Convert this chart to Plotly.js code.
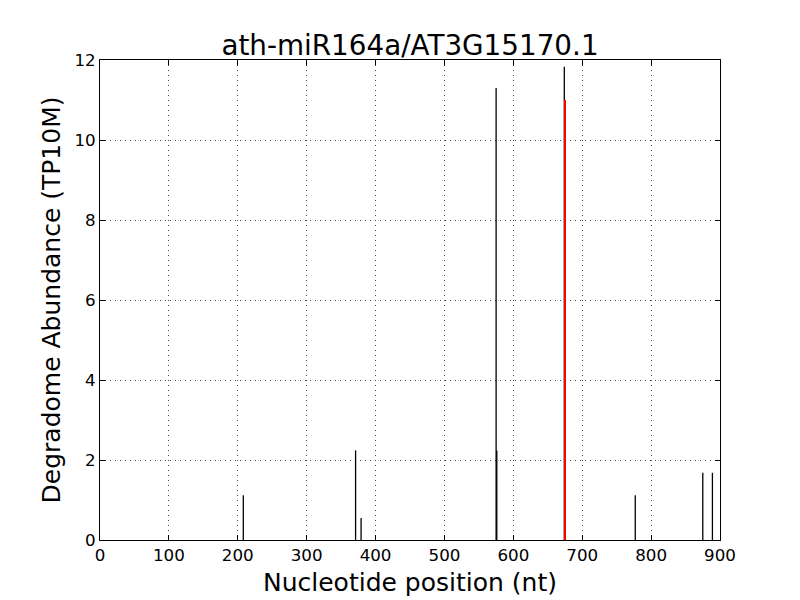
<!DOCTYPE html>
<html>
<head>
<meta charset="utf-8">
<script src="https://cdn.plot.ly/plotly-3.0.1.min.js"></script>
<style>html,body{margin:0;padding:0;background:#fff;}#chart{width:800px;height:600px;}</style>
</head>
<body>
<div id="chart"></div>
<script>
// Degradome peaks (nucleotide position, abundance TP10M)
const positions = [208, 371, 379, 575, 576, 674, 777, 875, 889];
const abundance = [1.12, 2.24, 0.55, 11.3, 2.24, 11.83, 1.12, 1.68, 1.68];
// Predicted cleavage site (red)
const sitePositions = [675];
const siteAbundance = [11.0];

const xTicks = [0, 100, 200, 300, 400, 500, 600, 700, 800, 900];
const yTicks = [0, 2, 4, 6, 8, 10, 12];

function stems(xs, ys) {
  const X = [], Y = [];
  xs.forEach((x, i) => { X.push(x, x, null); Y.push(0, ys[i], null); });
  return {X, Y};
}
const b = stems(positions, abundance);
const r = stems(sitePositions, siteAbundance);

const traces = [
  {x: b.X, y: b.Y, type: 'scatter', mode: 'lines', line: {color: '#000000', width: 1.3}, hoverinfo: 'skip', showlegend: false},
  {x: r.X, y: r.Y, type: 'scatter', mode: 'lines', line: {color: '#ff0000', width: 2}, hoverinfo: 'skip', showlegend: false}
];

const axisCommon = {
  showline: true, linecolor: '#000', linewidth: 1, mirror: 'ticks',
  ticks: 'inside', ticklen: 5, tickcolor: '#000', tickwidth: 1,
  showgrid: true, gridcolor: '#444', gridwidth: 1, griddash: '1px,4px',
  zeroline: false, tickfont: {family: 'DejaVu Sans', size: 16.7, color: '#000'}
};
const layout = {
  width: 800, height: 600,
  margin: {l: 100, r: 80, t: 60, b: 60},
  paper_bgcolor: '#fff', plot_bgcolor: '#fff',
  font: {family: 'DejaVu Sans', color: '#000'},
  title: {text: 'ath-miR164a/AT3G15170.1', font: {family: 'DejaVu Sans', size: 27.8, color: '#000'}, x: 0.5125, xanchor: 'center', y: 0.925, yanchor: 'middle'},
  xaxis: Object.assign({}, axisCommon, {
    range: [0, 900], tickvals: xTicks, ticktext: xTicks.map(String),
    title: {text: 'Nucleotide position (nt)', font: {family: 'DejaVu Sans', size: 25, color: '#000'}, standoff: 9}
  }),
  yaxis: Object.assign({}, axisCommon, {
    range: [0, 12], tickvals: yTicks, ticktext: yTicks.map(String),
    title: {text: 'Degradome Abundance (TP10M)', font: {family: 'DejaVu Sans', size: 25, color: '#000'}, standoff: 6}
  })
};
Plotly.newPlot('chart', traces, layout, {displayModeBar: false, staticPlot: true});
</script>
</body>
</html>
